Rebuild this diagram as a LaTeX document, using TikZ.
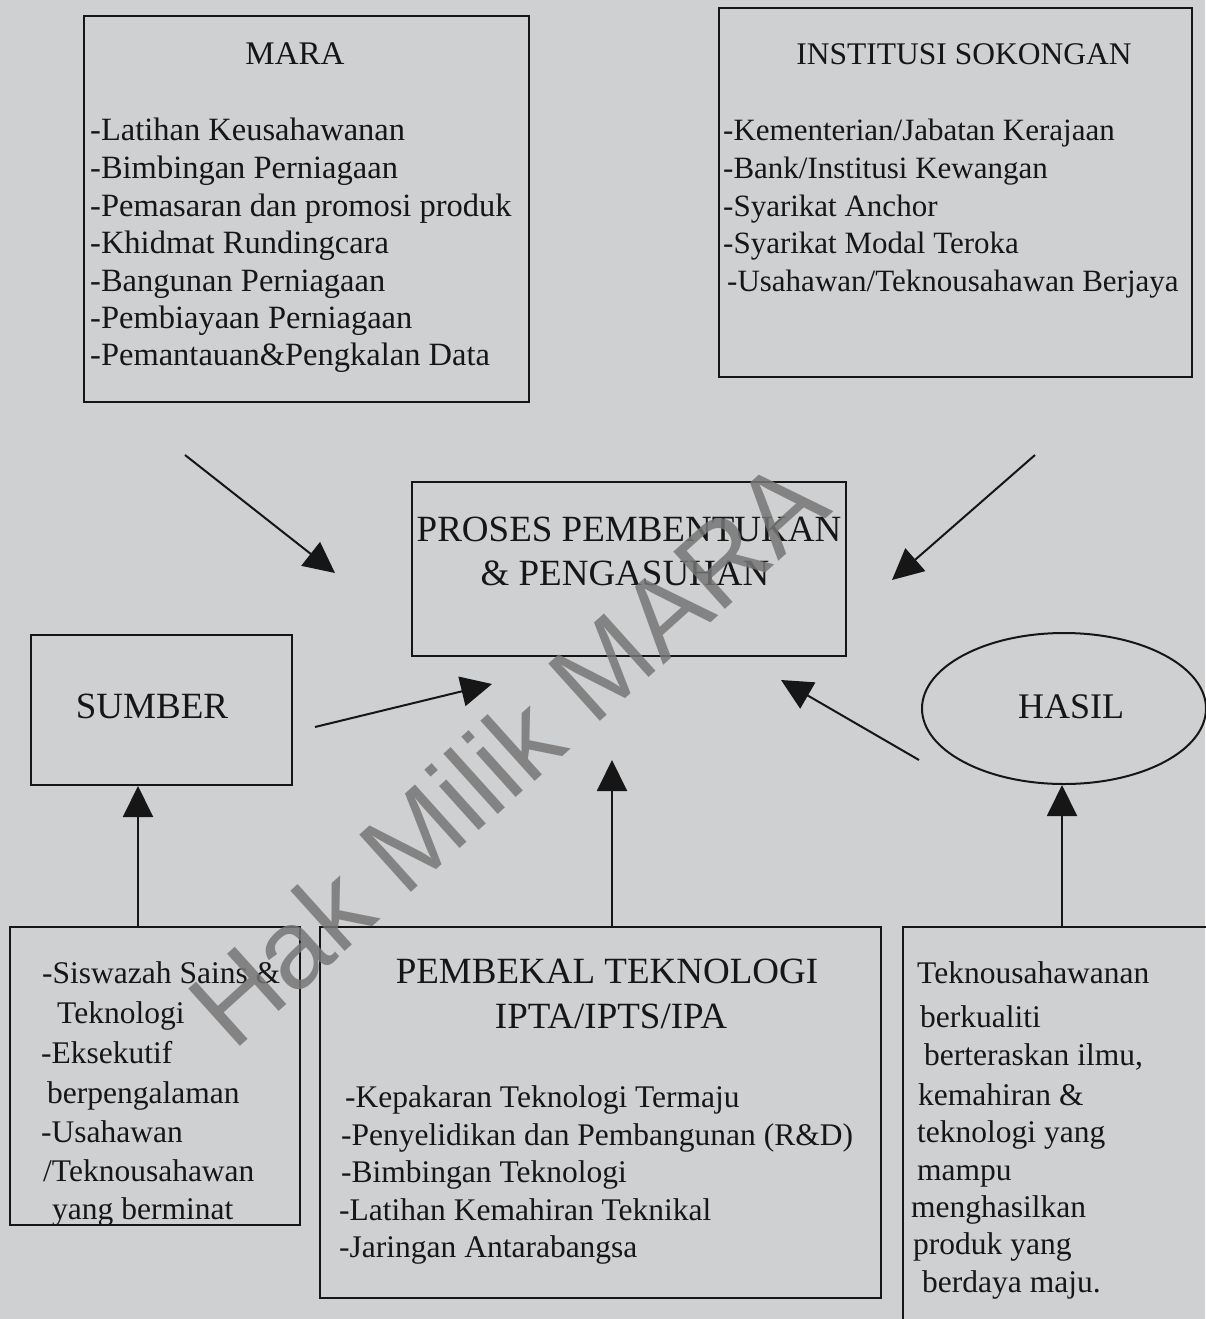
\documentclass[tikz,border=0pt]{standalone}
\usepackage{fontspec}
\setmainfont{Liberation Serif}
\newfontfamily\wmfont{Liberation Sans}
\usetikzlibrary{arrows.meta,shapes.geometric}
\definecolor{bg}{RGB}{206,208,210}
\definecolor{ink}{RGB}{22,22,22}
\definecolor{wm}{RGB}{118,118,118}
\begin{document}
\begin{tikzpicture}[x=1pt,y=-1pt,
  box/.style={draw=ink, line width=2pt, inner sep=0pt},
  ln/.style={anchor=base west, inner sep=0pt, text=ink, font=\fontsize{31.5}{38}\selectfont},
  lnA/.style={anchor=base west, inner sep=0pt, text=ink, font=\fontsize{32.5}{38}\selectfont},
  lnB/.style={anchor=base west, inner sep=0pt, text=ink, font=\fontsize{31}{38}\selectfont},
  tl/.style={anchor=base, inner sep=0pt, text=ink, font=\fontsize{33}{38}\selectfont},
  big/.style={anchor=base, inner sep=0pt, text=ink, font=\fontsize{37}{44}\selectfont},
  arr/.style={draw=ink, line width=2pt, -{Triangle[length=31pt,width=30pt]}}]
\useasboundingbox (0,0) rectangle (1205,1319);
\fill[bg] (0,0) rectangle (1205,1319);

% boxes
\node[box, minimum width=445pt, minimum height=386pt] (mara) at (306.5,209) {};
\node[box, minimum width=473pt, minimum height=369pt] (inst) at (955.5,192.5) {};
\node[box, minimum width=434pt, minimum height=174pt] (proses) at (629,569) {};
\node[box, minimum width=261pt, minimum height=150pt] (sumber) at (161.5,710) {};
\node[box, ellipse, minimum width=284pt, minimum height=151pt] (hasil) at (1064,708.5) {};
\node[box, minimum width=290pt, minimum height=298pt] (lb) at (155,1076) {};
\node[box, minimum width=561pt, minimum height=371pt] (pem) at (600.5,1112.5) {};
\node[box, minimum width=327pt, minimum height=413pt] (hb) at (1066.5,1133.5) {};

% MARA
\node[tl] (maraT) at (295,65) {MARA};
\node[lnA] (m1) at (90,140) {-Latihan Keusahawanan};
\node[lnA] (m2) at (90,178) {-Bimbingan Perniagaan};
\node[lnA] (m3) at (90,216) {-Pemasaran dan promosi produk};
\node[lnA] (m4) at (90,253) {-Khidmat Rundingcara};
\node[lnA] (m5) at (90,291) {-Bangunan Perniagaan};
\node[lnA] (m6) at (90,328) {-Pembiayaan Perniagaan};
\node[lnA] (m7) at (90,365) {-Pemantauan\&Pengkalan Data};

% INSTITUSI
\node[tl, font=\fontsize{31.5}{38}\selectfont] (instT) at (964,65) {INSTITUSI SOKONGAN};
\node[lnB] (i1) at (723,140) {-Kementerian/Jabatan Kerajaan};
\node[lnB] (i2) at (723,178) {-Bank/Institusi Kewangan};
\node[lnB] (i3) at (723,216) {-Syarikat Anchor};
\node[lnB] (i4) at (723,253) {-Syarikat Modal Teroka};
\node[lnB] (i5) at (727,291) {-Usahawan/Teknousahawan Berjaya};

% PROSES
\node[big] (p1) at (629,541) {PROSES PEMBENTUKAN};
\node[big] (p2) at (625,585) {\& PENGASUHAN};

% SUMBER / HASIL
\node[big] (sT) at (152,718) {SUMBER};
\node[big, font=\fontsize{36}{44}\selectfont] (hT) at (1071,718) {HASIL};

% left bottom
\node[ln] (l1) at (42,983) {-Siswazah Sains \&};
\node[ln] (l2) at (57,1023) {Teknologi};
\node[ln] (l3) at (41,1063) {-Eksekutif};
\node[ln] (l4) at (47,1103) {berpengalaman};
\node[ln] (l5) at (41,1142) {-Usahawan};
\node[ln] (l6) at (43,1181) {/Teknousahawan};
\node[ln] (l7) at (52,1219) {yang berminat};

% PEMBEKAL
\node[big] (pt1) at (607,983) {PEMBEKAL TEKNOLOGI};
\node[big] (pt2) at (611,1028) {IPTA/IPTS/IPA};
\node[ln] (k1) at (345,1107) {-Kepakaran Teknologi Termaju};
\node[ln] (k2) at (341,1145) {-Penyelidikan dan Pembangunan (R\&D)};
\node[ln] (k3) at (341,1182) {-Bimbingan Teknologi};
\node[ln] (k4) at (339,1220) {-Latihan Kemahiran Teknikal};
\node[ln] (k5) at (339,1257) {-Jaringan Antarabangsa};

% HASIL text
\node[ln] (h1) at (917,983) {Teknousahawanan};
\node[ln] (h2) at (920,1027) {berkualiti};
\node[ln] (h3) at (924,1065) {berteraskan ilmu,};
\node[ln] (h4) at (918,1105) {kemahiran \&};
\node[ln] (h5) at (917,1142) {teknologi yang};
\node[ln] (h6) at (917,1180) {mampu};
\node[ln] (h7) at (911,1217) {menghasilkan};
\node[ln] (h8) at (913,1254) {produk yang};
\node[ln] (h9) at (922,1292) {berdaya maju.};

% arrow end points
\coordinate (a1s) at (185,455);  \coordinate (a1t) at (335,573);
\coordinate (a2s) at (1035,455); \coordinate (a2t) at (892,580);
\coordinate (a3s) at (315,727);  \coordinate (a3t) at (492,684);
\coordinate (a4s) at (919,760);  \coordinate (a4t) at (781,680);
\coordinate (u1) at (138,927);
\coordinate (u2) at (612,927);   \coordinate (u2t) at (612,760);
\coordinate (u3) at (1062,927);

\draw[arr] (a1s) -- (a1t);
\draw[arr] (a2s) -- (a2t);
\draw[arr] (a3s) -- (a3t);
\draw[arr] (a4s) -- (a4t);
\draw[arr] (u1) -- (u1 |- sumber.south);
\draw[arr] (u2) -- (u2t);
\draw[arr] (u3) -- (u3 |- hasil.south);

% watermark
\node[rotate=42, inner sep=0pt, text=wm, opacity=0.85, font=\wmfont\fontsize{112}{112}\selectfont] (wmark) at (507,752) {Hak Milik MARA};
\end{tikzpicture}
\end{document}
